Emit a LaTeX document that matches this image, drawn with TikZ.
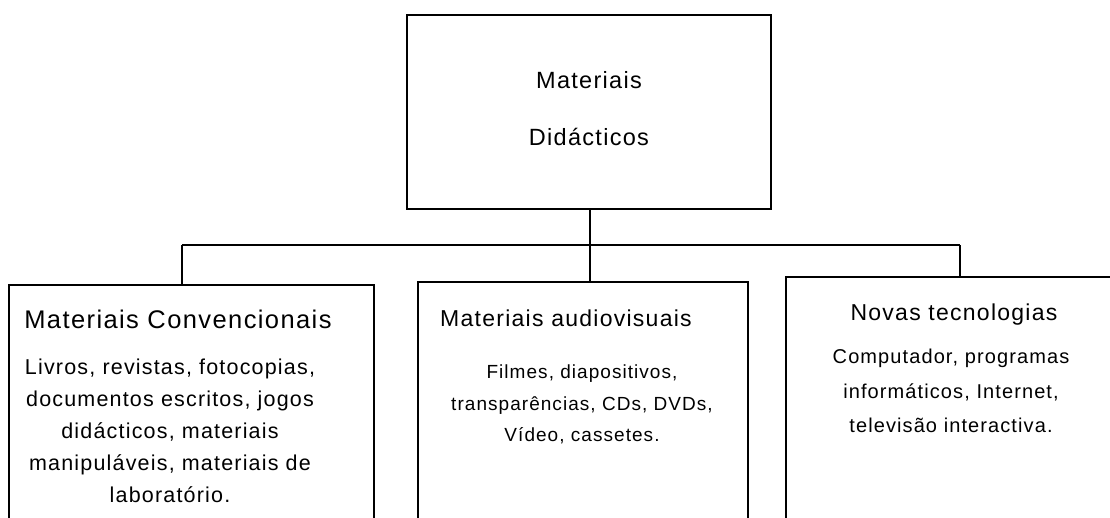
\documentclass[tikz,border=0pt]{standalone}
\usepackage{fontspec}
\setmainfont{Liberation Sans}
\newfontfamily\lfont[LetterSpace=5.5]{Liberation Sans}
\begin{document}
\begin{tikzpicture}[x=1pt,y=-1pt,
  box/.style={draw=black, line width=1.8pt, rectangle, inner sep=0pt, outer sep=0pt},
  link/.style={draw=black, line width=1.8pt},
  txt/.style={anchor=base, inner sep=0pt, font=\lfont\fontsize{#1}{#1}\selectfont},
  txt/.default=21.5]
\useasboundingbox (0,0) rectangle (1110,517);
\begin{scope}
\clip (0,0) rectangle (1110,517);
% boxes
\node[box, minimum width=364pt, minimum height=194pt] (top) at (589,112) {};
\node[box, minimum width=365pt, minimum height=260pt] (left) at (191.5,415) {};
\node[box, minimum width=330pt, minimum height=263pt] (mid) at (583,413.5) {};
\node[box, minimum width=349pt, minimum height=268pt] (right) at (960.5,411) {};
% connectors
\coordinate (jl) at (182,245);
\coordinate (jr) at (960,245);
\coordinate (jm) at (590,245);
\draw[link] (jl) -- (jr);
\draw[link] (jm |- top.south) -- (jm |- mid.north);
\draw[link] (jl) -- (jl |- left.north);
\draw[link] (jr) -- (jr |- right.north);
% top text
\node[txt=23.5] (t1) at (589,88) {Materiais};
\node[txt=23.5] (t2) at (589,145) {Didácticos};
% left text
\node[txt=25.5] (lt) at (178,328) {Materiais Convencionais};
\node[txt=21.5] (l1) at (170,374) {Livros, revistas, fotocopias,};
\node[txt=21.5] (l2) at (170,406) {documentos escritos, jogos};
\node[txt=21.5] (l3) at (170,438) {didácticos, materiais};
\node[txt=21.5] (l4) at (170,470) {manipuláveis, materiais de};
\node[txt=21.5] (l5) at (170,502) {laboratório.};
% middle text
\node[txt=23, anchor=base west] (mt) at (440,326) {Materiais audiovisuais};
\node[txt=19] (m1) at (582,378) {Filmes, diapositivos,};
\node[txt=19] (m2) at (582,410) {transparências, CDs, DVDs,};
\node[txt=19] (m3) at (582,441) {Vídeo, cassetes.};
% right text
\node[txt=23] (rt) at (954,320) {Novas tecnologias};
\node[txt=20] (r1) at (951,363) {Computador, programas};
\node[txt=20] (r2) at (951,398) {informáticos, Internet,};
\node[txt=20] (r3) at (951,432) {televisão interactiva.};
\end{scope}
\end{tikzpicture}
\end{document}
